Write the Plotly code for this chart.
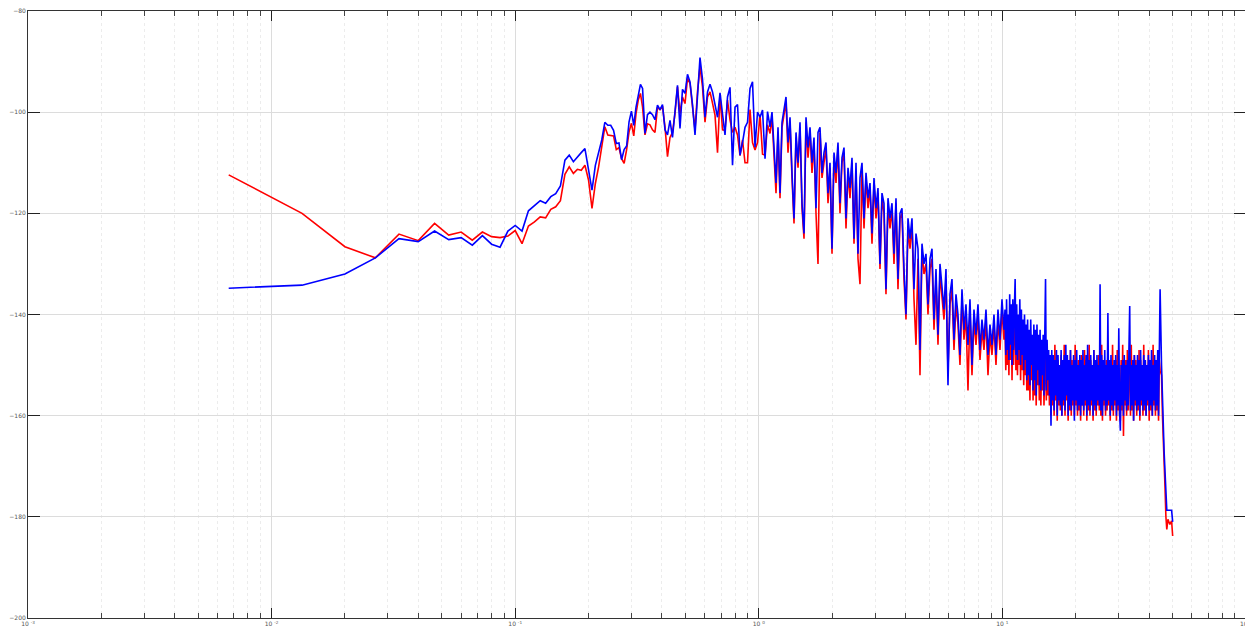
import numpy as np
import plotly.graph_objects as go

# ---------------- data (dB) ----------------
# A: first 50 FFT bins, df = 1/150 Hz
bins_a = np.arange(1, 51)
df = 1.0 / 150.0
red_a = [-112.4, -120.0, -126.6, -128.8, -124.1, -125.4, -122.0, -124.3, -123.7, -125.3,
         -123.7, -124.6, -124.8, -124.5, -123.4, -126.0, -122.5, -121.7, -120.7, -120.9,
         -119.2, -118.7, -117.5, -112.3, -110.8, -112.1, -111.3, -111.5, -110.5, -113.4,
         -119.0, -114.1, -110.8, -106.9, -102.9, -104.5, -104.6, -104.7, -107.4, -107.0,
         -109.2, -110.1, -107.4, -103.9, -102.2, -104.7, -100.3, -97.6, -96.3, -99.0]
blue_a = [-134.8, -134.2, -132.0, -128.8, -125.0, -125.6, -123.5, -125.2, -124.8, -126.3,
          -124.4, -126.1, -126.7, -123.5, -122.4, -123.5, -119.5, -118.4, -117.5, -118.0,
          -116.7, -116.1, -114.6, -109.5, -108.5, -109.8, -108.8, -108.0, -107.2, -111.5,
          -115.4, -110.5, -108.2, -105.5, -102.0, -102.6, -102.6, -103.6, -106.2, -106.1,
          -109.4, -107.4, -106.7, -101.9, -99.8, -102.6, -99.0, -96.3, -94.5, -95.3]

# B: 0.341 .. 1.112 Hz
f_b_range = (0.341, 1.112)
blue_b = [-104.2, -100.5, -100.0, -100.5, -101.5, -98.6, -99.5, -98.5, -103.5, -104.5,
          -101.6, -105.0, -100.3, -94.7, -103.2, -95.5, -96.3, -92.5, -94.0, -98.5,
          -104.5, -96.0, -89.2, -93.5, -101.0, -96.0, -94.5, -96.0, -98.3, -101.0,
          -96.2, -100.3, -104.5, -97.0, -95.1, -110.5, -99.0, -98.5, -108.5, -106.0,
          -103.0, -102.0, -95.3, -94.0, -106.9, -100.0, -101.0, -99.6, -109.2, -99.9,
          -102.9]
red_b = [-104.5, -102.3, -102.5, -103.5, -104.0, -99.0, -99.5, -98.8, -102.9, -108.8,
         -105.0, -104.0, -100.3, -95.0, -100.3, -97.0, -98.3, -93.3, -94.3, -99.5,
         -103.5, -96.0, -91.0, -95.0, -102.0, -97.0, -96.0, -98.2, -100.6, -108.0,
         -96.6, -103.5, -103.6, -97.6, -101.5, -104.0, -103.0, -104.5, -108.6, -105.5,
         -110.0, -110.0, -99.5, -106.0, -107.5, -106.0, -100.5, -108.3, -108.5, -102.5,
         -104.2]

# C: 1.133 .. 10.15 Hz
f_c_range = (1.133, 10.15)
blue_c = [-100, -108, -114, -103, -116, -102, -99, -97, -106, -101,
          -112, -121, -104, -110, -102, -118, -124, -101, -107, -103,
          -110, -105, -119, -104, -103, -112, -108, -106, -116, -110,
          -127, -108, -112, -106, -118, -109, -107, -121, -111, -115,
          -109, -125, -110, -128, -113, -110, -121, -112, -117, -114,
          -124, -113, -119, -115, -130, -116, -118, -135, -117, -121,
          -118, -128, -117, -133, -120, -119, -131, -140, -121, -125,
          -121, -135, -124, -127, -147, -126, -130, -128, -138, -129,
          -127, -141, -131, -144, -130, -134, -139, -131, -154, -136,
          -133, -145, -136, -140, -148, -135, -143, -138, -146, -137,
          -150, -139, -144, -138, -147, -141, -145, -139, -148, -142,
          -146, -140, -148, -139, -145, -137, -143]
red_c = [-101, -110, -116, -104, -117, -103, -100, -98, -108, -102,
         -113, -122, -105, -111, -103, -119, -125, -102, -109, -104,
         -112, -106, -120, -130, -104, -113, -110, -107, -118, -111,
         -128, -109, -114, -107, -120, -110, -108, -123, -112, -117,
         -110, -126, -112, -129, -134, -111, -123, -113, -119, -115,
         -126, -114, -121, -116, -131, -117, -120, -136, -118, -123,
         -119, -130, -118, -135, -121, -120, -133, -141, -123, -127,
         -122, -137, -146, -129, -152, -127, -132, -130, -140, -131,
         -129, -143, -133, -146, -132, -136, -141, -133, -151, -138,
         -135, -147, -138, -142, -150, -137, -145, -140, -155, -139,
         -152, -141, -146, -140, -149, -143, -147, -141, -152, -144,
         -148, -142, -150, -141, -147, -139, -145]

# D: 10.25 .. 44.4 Hz
f_d_range = (10.25, 44.4)
blue_d = [-139, -148, -137, -147, -140, -149, -136, -146, -138, -150,
          -137, -147, -139, -133, -148, -138, -149, -140, -147, -137,
          -150, -139, -148, -141, -151, -140, -149, -142, -153, -141,
          -152, -143, -154, -141, -150, -144, -155, -142, -153, -143,
          -156, -142, -151, -144, -154, -143, -155, -145, -152, -144,
          -156, -143, -133, -155, -145, -153, -147, -156, -148, -162,
          -147, -157, -148, -159, -149, -156, -147, -160, -148, -157,
          -150, -158, -147, -160, -149, -157, -148, -159, -146, -156,
          -148, -160, -149, -158, -147, -159, -150, -157, -148, -161,
          -149, -157, -147, -159, -150, -158, -148, -160, -149, -158,
          -147, -159, -150, -157, -148, -160, -146, -158, -149, -159,
          -148, -157, -150, -160, -147, -158, -149, -159, -148, -157,
          -150, -158, -134, -159, -148, -160, -149, -157, -147, -159,
          -150, -158, -139.7, -157, -149, -160, -148, -158, -150, -159,
          -149, -157, -148, -160, -150, -158, -142.7, -159, -163, -150,
          -158, -149, -160, -148, -157, -150, -159, -149, -158, -147,
          -138.3, -159, -150, -158, -149, -161, -148, -157, -150, -159,
          -148, -158, -149, -160, -147, -157, -150, -159, -148, -158,
          -149, -160, -150, -157, -148, -159, -149, -158, -147, -160,
          -150, -157, -148, -159, -149, -158, -147, -160, -150, -135]
red_d = [-142, -151, -140, -150, -143, -152, -140, -149, -141, -153,
         -140, -150, -142, -139, -151, -141, -152, -143, -150, -140,
         -153, -142, -151, -144, -154, -143, -152, -145, -155, -144,
         -155, -146, -157, -144, -153, -147, -157, -145, -156, -146,
         -158, -145, -154, -147, -157, -146, -158, -148, -155, -147,
         -158, -146, -145, -157, -148, -156, -149, -158, -150, -160,
         -149, -158, -150, -160, -146, -157, -150, -161, -149, -158,
         -150, -159, -148, -160, -149, -158, -146, -160, -150, -157,
         -149, -161, -150, -159, -147, -160, -149, -158, -150, -160,
         -146, -158, -150, -160, -149, -159, -150, -161, -148, -158,
         -150, -160, -147, -158, -149, -161, -150, -159, -146, -160,
         -149, -158, -150, -161, -147, -159, -149, -160, -150, -158,
         -148, -159, -150, -160, -146, -161, -149, -158, -150, -160,
         -149, -159, -147, -158, -150, -161, -149, -159, -146, -160,
         -150, -158, -149, -161, -147, -159, -150, -160, -161, -149,
         -159, -146, -164, -150, -158, -149, -160, -147, -159, -150,
         -149, -160, -146, -159, -150, -161, -148, -158, -149, -160,
         -150, -159, -147, -161, -149, -158, -150, -160, -146, -159,
         -149, -160, -150, -158, -147, -161, -150, -159, -149, -160,
         -146, -158, -150, -160, -149, -159, -147, -161, -149, -151]

# E: roll-off near Nyquist
f_e = [45.0, 45.4, 45.8, 46.1, 46.5, 46.9, 47.3, 47.8, 48.7, 49.5, 50.0]
blue_e = [-150, -158, -163, -167, -171, -176, -178.7, -178.7, -178.7, -178.7, -181]
red_e = [-152, -160, -164, -170, -174, -180, -182.5, -180.5, -181.5, -180.8, -183.8]

# axis ticks
x_tickvals = [1e-3, 1e-2, 1e-1, 1e0, 1e1, 1e2]
x_ticktext = ["10 <sup>-3</sup>", "10 <sup>-2</sup>", "10 <sup>-1</sup>",
              "10 <sup>0</sup>", "10 <sup>1</sup>", "10 <sup>2</sup>"]

# ---------------- assemble ----------------
f_a = bins_a * df
f_b = np.geomspace(*f_b_range, len(blue_b))
f_c = np.geomspace(*f_c_range, len(blue_c))
f_d = np.geomspace(*f_d_range, len(blue_d))
freq = np.concatenate([f_a, f_b, f_c, f_d, f_e])
red = np.concatenate([red_a, red_b, red_c, red_d, red_e])
blue = np.concatenate([blue_a, blue_b, blue_c, blue_d, blue_e])

fig = go.Figure()
fig.add_trace(go.Scatter(x=freq, y=red, mode="lines",
                         line=dict(color="#ff0000", width=1.6), hoverinfo="skip"))
fig.add_trace(go.Scatter(x=freq, y=blue, mode="lines",
                         line=dict(color="#0000ff", width=1.6), hoverinfo="skip"))

tickfont = dict(family="DejaVu Sans", size=6, color="#555555")
fig.update_layout(
    width=1245, height=622,
    margin=dict(l=20, r=7, t=3, b=12),
    paper_bgcolor="white", plot_bgcolor="white",
    showlegend=False,
    xaxis=dict(type="log", range=[-3, 2], tickmode="array",
               tickvals=x_tickvals, ticktext=x_ticktext,
               showgrid=True, gridcolor="#dcdcdc", gridwidth=1,
               ticks="inside", ticklen=10, tickcolor="#222222",
               minor=dict(dtick="D1", ticks="inside", ticklen=5, tickcolor="#444444",
                          showgrid=True, gridcolor="#ececec", griddash="dot"),
               showline=True, linecolor="#333333", linewidth=1, mirror="allticks",
               tickfont=tickfont, zeroline=False, automargin=False,
               ticklabeloverflow="allow"),
    yaxis=dict(range=[-200, -80], dtick=20,
               showgrid=True, gridcolor="#dcdcdc", gridwidth=1,
               ticks="inside", ticklen=12, tickcolor="#222222",
               showline=True, linecolor="#333333", linewidth=1, mirror="allticks",
               tickfont=tickfont, zeroline=False, automargin=False,
               ticklabeloverflow="allow"),
)
fig.write_html("out.html", config={"displayModeBar": False})
